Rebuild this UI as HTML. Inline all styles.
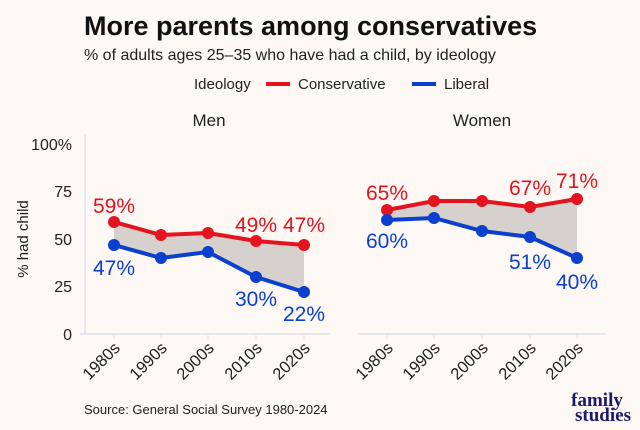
<!DOCTYPE html>
<html><head><meta charset="utf-8"><style>
body{margin:0;background:#fdf8f3;}
svg{display:block;font-family:"Liberation Sans",sans-serif;}
</style></head><body>
<svg width="640" height="430" viewBox="0 0 640 430">
<rect width="640" height="430" fill="#fdf8f3"/>
<text x="84" y="35" font-size="27" font-weight="bold" fill="#111">More parents among conservatives</text>
<text x="84" y="60" font-size="16" fill="#222">% of adults ages 25–35 who have had a child, by ideology</text>
<text x="194" y="89" font-size="15" fill="#222">Ideology</text>
<line x1="266" y1="84" x2="290" y2="84" stroke="#e3141f" stroke-width="4"/>
<text x="298" y="89" font-size="15" fill="#222">Conservative</text>
<line x1="412" y1="84" x2="436" y2="84" stroke="#0a3fcf" stroke-width="4"/>
<text x="444" y="89" font-size="15" fill="#222">Liberal</text>
<text x="209" y="126" font-size="17" fill="#222" text-anchor="middle">Men</text>
<text x="482" y="126" font-size="17" fill="#222" text-anchor="middle">Women</text>
<line x1="85" y1="135" x2="85" y2="334" stroke="#dde3ee" stroke-width="1.5"/>
<line x1="80" y1="334" x2="330" y2="334" stroke="#dde3ee" stroke-width="1.5"/>
<line x1="358" y1="334" x2="606" y2="334" stroke="#dde3ee" stroke-width="1.5"/>
<g font-size="16" fill="#222" text-anchor="end">
<text x="72" y="150">100%</text><text x="72" y="197">75</text><text x="72" y="245">50</text><text x="72" y="292">25</text><text x="72" y="340">0</text>
</g>
<text transform="translate(28,239) rotate(-90)" font-size="15" fill="#222" text-anchor="middle">% had child</text>
<g stroke="#dde3ee" stroke-width="1">
<line x1="114" y1="334" x2="114" y2="339"/><line x1="161" y1="334" x2="161" y2="339"/><line x1="208" y1="334" x2="208" y2="339"/><line x1="256" y1="334" x2="256" y2="339"/><line x1="304" y1="334" x2="304" y2="339"/>
<line x1="387" y1="334" x2="387" y2="339"/><line x1="434" y1="334" x2="434" y2="339"/><line x1="482" y1="334" x2="482" y2="339"/><line x1="530" y1="334" x2="530" y2="339"/><line x1="577" y1="334" x2="577" y2="339"/>
</g>
<g font-size="16.5" fill="#222" text-anchor="end">
<text transform="translate(121,349) rotate(-45)">1980s</text>
<text transform="translate(168,349) rotate(-45)">1990s</text>
<text transform="translate(215,349) rotate(-45)">2000s</text>
<text transform="translate(263,349) rotate(-45)">2010s</text>
<text transform="translate(311,349) rotate(-45)">2020s</text>
<text transform="translate(394,349) rotate(-45)">1980s</text>
<text transform="translate(441,349) rotate(-45)">1990s</text>
<text transform="translate(489,349) rotate(-45)">2000s</text>
<text transform="translate(537,349) rotate(-45)">2010s</text>
<text transform="translate(584,349) rotate(-45)">2020s</text>
</g>
<polygon points="114,222 161,235 208,233 256,241 304,245 304,292 256,277 208,252 161,258 114,245" fill="#d6d1cc"/>
<polyline points="114,222 161,235 208,233 256,241 304,245" fill="none" stroke="#e3141f" stroke-width="4"/>
<polyline points="114,245 161,258 208,252 256,277 304,292" fill="none" stroke="#0a3fcf" stroke-width="4"/>
<g fill="#e3141f"><circle cx="114" cy="222" r="6"/><circle cx="161" cy="235" r="6"/><circle cx="208" cy="233" r="6"/><circle cx="256" cy="241" r="6"/><circle cx="304" cy="245" r="6"/></g>
<g fill="#0a3fcf"><circle cx="114" cy="245" r="6"/><circle cx="161" cy="258" r="6"/><circle cx="208" cy="252" r="6"/><circle cx="256" cy="277" r="6"/><circle cx="304" cy="292" r="6"/></g>
<polygon points="387,210 434,201 482,201 530,207 577,199 577,258 530,237 482,231 434,218 387,220" fill="#d6d1cc"/>
<polyline points="387,210 434,201 482,201 530,207 577,199" fill="none" stroke="#e3141f" stroke-width="4"/>
<polyline points="387,220 434,218 482,231 530,237 577,258" fill="none" stroke="#0a3fcf" stroke-width="4"/>
<g fill="#e3141f"><circle cx="387" cy="210" r="6"/><circle cx="434" cy="201" r="6"/><circle cx="482" cy="201" r="6"/><circle cx="530" cy="207" r="6"/><circle cx="577" cy="199" r="6"/></g>
<g fill="#0a3fcf"><circle cx="387" cy="220" r="6"/><circle cx="434" cy="218" r="6"/><circle cx="482" cy="231" r="6"/><circle cx="530" cy="237" r="6"/><circle cx="577" cy="258" r="6"/></g>
<g font-size="21" text-anchor="middle" fill="#e3141f">
<text x="114" y="213">59%</text><text x="256" y="232">49%</text><text x="304" y="232">47%</text>
<text x="387" y="200">65%</text><text x="530" y="195">67%</text><text x="577" y="188">71%</text>
</g>
<g font-size="21" text-anchor="middle" fill="#0a3fcf">
<text x="114" y="275">47%</text><text x="256" y="306">30%</text><text x="304" y="321">22%</text>
<text x="387" y="248">60%</text><text x="530" y="269">51%</text><text x="577" y="289">40%</text>
</g>
<text x="84" y="414" font-size="13" fill="#222">Source: General Social Survey 1980-2024</text>
<g font-family="Liberation Serif,serif" font-weight="bold" font-size="19" fill="#1a1a6e" text-anchor="middle">
<text x="597" y="406">family</text><text x="603" y="421">studies</text>
</g>
</svg>
</body></html>
